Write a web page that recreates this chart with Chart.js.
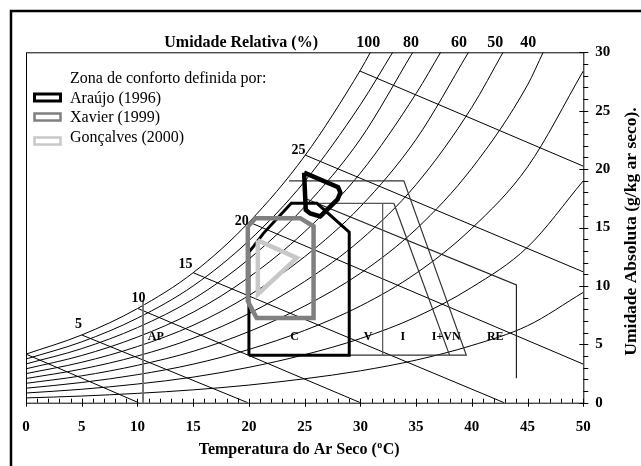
<!DOCTYPE html>
<html>
<head>
<meta charset="utf-8">
<script src="https://cdn.jsdelivr.net/npm/chart.js@4.4.0/dist/chart.umd.min.js"></script>
<style>
  html, body { margin: 0; padding: 0; background: #fff; }
  canvas { display: block; }
</style>
</head>
<body>
<canvas id="chart" width="641" height="466"></canvas>
<script>
// dry-bulb temperatures (°C) where the relative humidity curves were read
const tempSteps = [0, 5, 10, 15, 20, 25, 30, 35, 40, 45, 50]

// absolute humidity (g/kg) of each RH curve at tempSteps
const rh100 = [4.16, 5.80, 8.06, 11.13, 15.45, 21.12, 28.47]
const rh90 = [3.74, 5.21, 7.24, 10.00, 13.87, 18.94, 25.51]
const rh80 = [3.32, 4.63, 6.43, 8.87, 12.30, 16.78, 22.57]
const rh70 = [2.90, 4.04, 5.62, 7.75, 10.74, 14.64, 19.66, 26.47]
const rh60 = [2.49, 3.46, 4.81, 6.63, 9.18, 12.50, 16.78, 22.55]
const rh50 = [2.07, 2.88, 4.00, 5.52, 7.63, 10.38, 13.92, 18.68, 25.29]
const rh40 = [1.66, 2.30, 3.20, 4.40, 6.09, 8.28, 11.08, 14.86, 20.07, 27.21]
const rh30 = [1.24, 1.73, 2.40, 3.30, 4.56, 6.19, 8.28, 11.08, 14.93, 20.19, 28.40]
const rh20 = [0.83, 1.15, 1.60, 2.19, 3.03, 4.11, 5.49, 7.34, 9.88, 13.32, 19.00]
const rh10 = [0.41, 0.57, 0.80, 1.10, 1.51, 2.05, 2.73, 3.65, 4.90, 6.59, 9.45]
const rhCurves = [rh100, rh90, rh80, rh70, rh60, rh50, rh40, rh30, rh20, rh10]
// temperature where a curve leaves the chart through the 30 g/kg top edge
const rhTopT = [30.9, 32.9, 34.7, 37.2, 39.7, 42.8, 46.4, null, null, null]

// RH labels along the top
const rhLabels = ["100", "80", "60", "50", "40"]
const rhLabelT = [30.7, 34.55, 38.85, 42.1, 45.05]

// wet-bulb lines: start on saturation, end on the bottom or right edge
const wbStartT = [0, 5, 10.05, 15, 20.05, 25.05, 29.95]
const wbStartW = [4.16, 5.8, 8.06, 11.13, 15.45, 21.2, 28.4]
const wbEndT = [10.1, 19.9, 30.0, 42.9, 50, 50, 50]
const wbEndW = [0, 0, 0, 0, 3.3, 11.2, 20.25]
const wbLabels = ["5", "10", "15", "20", "25"]
const wbLabelT = [4.7, 10.1, 14.3, 19.35, 24.45]
const wbLabelW = [6.7, 8.95, 11.8, 15.5, 21.6]

// comfort zones
const araujoT = [24.95, 28.0, 28.2, 27.95, 26.4, 25.5, 25.1, 24.95]
const araujoW = [19.7, 18.45, 18.0, 17.4, 15.95, 16.2, 16.5, 19.7]
const xavierT = [19.9, 20.6, 24.6, 25.8, 25.8, 20.7, 20.3, 19.9, 19.9]
const xavierW = [15.1, 15.8, 15.8, 15.1, 7.25, 7.25, 7.95, 8.7, 15.1]
const goncalvesT = [20.8, 24.3, 20.8, 20.8]
const goncalvesW = [13.9, 12.4, 9.3, 13.9]

// bioclimatic zone boundaries
const comfortT = [20, 29, 29, 26.1, 23.8, 21.3, 20.4, 20, 20]
const comfortW = [4.07, 4.07, 14.6, 17.07, 17.07, 14.5, 13.36, 12.9, 4.07]
const apT = [10.5, 10.5]
const apW = [0, 8.8]
const ventTopT = [23.8, 33.0]
const ventTopW = [17.07, 17.07]
const ventEdgeT = [32, 32]
const ventEdgeW = [17.07, 4.07]
const inertiaT = [23.6, 33.9, 39.5, 29]
const inertiaW = [19.0, 19.0, 4.07, 4.07]
const inertiaInnerT = [33.0, 38.0]
const inertiaInnerW = [17.07, 4.07]
const evapT = [25.0, 44, 44]
const evapW = [17.5, 10.08, 2.09]

const zoneLabels = ["AP", "C", "V", "I", "I+VN", "RE"]
const zoneLabelT = [11.65, 24.1, 30.7, 33.8, 37.7, 42.1]
const zoneLabelW = 5.6

const legendItems = ["Araújo (1996)", "Xavier (1999)", "Gonçalves (2000)"]
const legendColors = ["#000000", "#808080", "#c8c8c8"]

const SERIF = "'Liberation Serif', 'Times New Roman', serif"

const pts = (xs, ys) => xs.map((t, i) => ({ x: t, y: ys[i] }))

function path(xs, ys, color, width, extra = {}) {
  return {
    data: pts(xs, ys),
    showLine: true,
    borderColor: color,
    borderWidth: width,
    pointRadius: 0,
    fill: false,
    borderJoinStyle: "miter",
    ...extra
  }
}

const datasets = [
  path(goncalvesT, goncalvesW, legendColors[2], 4.5),
  path(xavierT, xavierW, legendColors[1], 4.5),
  path(araujoT, araujoW, legendColors[0], 4.5),
  path(comfortT, comfortW, "#000", 3)
]

;[[apT, apW, "#6a6a6a", 1.8], [ventTopT, ventTopW, "#555", 1.2], [ventEdgeT, ventEdgeW, "#555", 1.2],
  [inertiaT, inertiaW, "#333", 1.2], [inertiaInnerT, inertiaInnerW, "#333", 1.2], [evapT, evapW, "#222", 1.2]]
  .forEach(([t, w, c, lw]) => datasets.push(path(t, w, c, lw)))

wbStartT.forEach((t, i) => {
  datasets.push(path([t, wbEndT[i]], [wbStartW[i], wbEndW[i]], "#000", 1))
})

rhCurves.forEach((ws, i) => {
  const xs = tempSteps.slice(0, ws.length)
  const ys = ws.slice()
  if (rhTopT[i] !== null) { xs.push(rhTopT[i]); ys.push(30) }
  datasets.push(path(xs, ys, "#000", 1, { cubicInterpolationMode: "monotone" }))
})

const decor = {
  id: "decor",
  afterDraw(chart) {
    const { ctx, chartArea: a, scales: { x, y } } = chart
    ctx.save()
    ctx.strokeStyle = "#000"
    ctx.fillStyle = "#000"

    // outer frame, only its left and top edges are in view
    ctx.lineWidth = 2.5
    ctx.beginPath()
    ctx.moveTo(11, 466); ctx.lineTo(11, 11); ctx.lineTo(641, 11)
    ctx.stroke()

    // plot box
    ctx.lineWidth = 1
    ctx.strokeRect(a.left + 0.5, a.top + 0.5, a.right - a.left, a.bottom - a.top)

    // tick marks
    ctx.beginPath()
    for (let v = 0; v <= 50; v++) {
      const px = Math.round(x.getPixelForValue(v)) + 0.5
      ctx.moveTo(px, a.bottom - 4)
      ctx.lineTo(px, a.bottom + (v % 5 === 0 ? 4 : 0))
    }
    for (let v = 0; v <= 30; v++) {
      const py = Math.round(y.getPixelForValue(v)) + 0.5
      ctx.moveTo(a.right - (v % 5 === 0 ? 4 : 0), py)
      ctx.lineTo(a.right + 5, py)
    }
    ctx.stroke()

    // RH labels along the top
    ctx.font = `bold 16px ${SERIF}`
    ctx.textBaseline = "middle"
    ctx.textAlign = "center"
    rhLabels.forEach((s, i) => ctx.fillText(s, x.getPixelForValue(rhLabelT[i]), a.top - 9))
    ctx.textAlign = "right"
    ctx.fillText("Umidade Relativa (%)", x.getPixelForValue(26.2), a.top - 9)

    // wet-bulb labels
    ctx.font = `bold 14px ${SERIF}`
    ctx.textAlign = "center"
    wbLabels.forEach((s, i) => ctx.fillText(s, x.getPixelForValue(wbLabelT[i]), y.getPixelForValue(wbLabelW[i])))

    // zone labels
    ctx.font = `bold 12px ${SERIF}`
    zoneLabels.forEach((s, i) => ctx.fillText(s, x.getPixelForValue(zoneLabelT[i]), y.getPixelForValue(zoneLabelW)))

    // x title with superscript o
    ctx.font = `bold 16px ${SERIF}`
    const t1 = "Temperatura do Ar Seco (", t2 = "o", t3 = "C)"
    const w1 = ctx.measureText(t1).width, w3 = ctx.measureText(t3).width
    ctx.font = `bold 10px ${SERIF}`
    const w2 = ctx.measureText(t2).width
    const tx = (a.left + a.right) / 2 - 6 - (w1 + w2 + w3) / 2
    const ty = 450
    ctx.textAlign = "left"
    ctx.font = `bold 16px ${SERIF}`
    ctx.fillText(t1, tx, ty)
    ctx.font = `bold 10px ${SERIF}`
    ctx.fillText(t2, tx + w1 + 0.5, ty - 5)
    ctx.font = `bold 16px ${SERIF}`
    ctx.fillText(t3, tx + w1 + w2 + 1, ty)

    // y title on the right, reading upwards
    ctx.save()
    ctx.font = `bold 17.5px ${SERIF}`
    ctx.translate(631, (a.top + a.bottom) / 2 + 4)
    ctx.rotate(-Math.PI / 2)
    ctx.textAlign = "center"
    ctx.fillText("Umidade Absoluta (g/kg ar seco).", 0, 0)
    ctx.restore()

    // legend
    ctx.font = `16px ${SERIF}`
    ctx.textAlign = "left"
    ctx.fillText("Zona de conforto definida por:", 70, 79)
    const boxY = [97.5, 117, 141]
    const textY = [99, 118, 137.5]
    const boxW = [3, 2.5, 2.5]
    legendItems.forEach((s, i) => {
      ctx.strokeStyle = legendColors[i]
      ctx.lineWidth = boxW[i]
      ctx.strokeRect(34.5, boxY[i] - 3.5, 26, 7)
      ctx.fillText(s, 70, textY[i])
    })
    ctx.restore()
  }
}

new Chart(document.getElementById("chart"), {
  type: "scatter",
  data: { datasets },
  options: {
    responsive: false,
    animation: false,
    devicePixelRatio: 1,
    layout: { padding: { left: 26, top: 52.3, right: 0, bottom: 0 } },
    plugins: { legend: { display: false }, tooltip: { enabled: false } },
    scales: {
      x: {
        type: "linear", min: 0, max: 50, position: "bottom",
        grid: { display: false, drawTicks: false },
        border: { display: false },
        ticks: {
          stepSize: 5, autoSkip: false, maxRotation: 0, padding: 15, color: "#000",
          font: { family: SERIF, size: 15, weight: "bold" }
        },
        afterFit: s => { s.height = 63.3 }
      },
      y: {
        type: "linear", min: 0, max: 30, position: "right",
        grid: { display: false, drawTicks: false },
        border: { display: false },
        ticks: {
          stepSize: 5, autoSkip: false, padding: 12, color: "#000",
          font: { family: SERIF, size: 15, weight: "bold" }
        },
        afterFit: s => { s.width = 57.7 }
      }
    }
  },
  plugins: [decor]
})
</script>
</body>
</html>
